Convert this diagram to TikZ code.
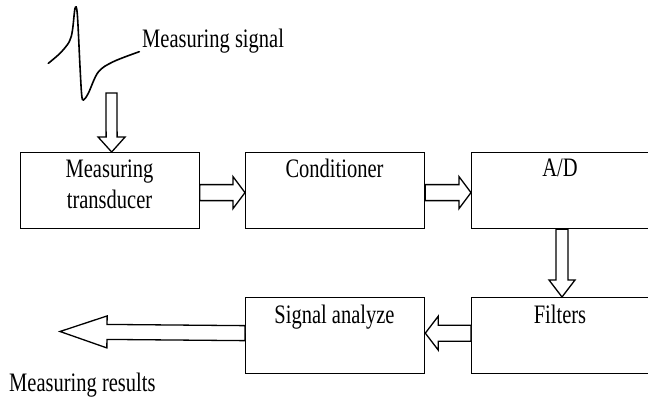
\documentclass[tikz,border=0pt]{standalone}
\usepackage{fontspec}
\usepackage{graphicx}
\setmainfont{Liberation Serif}
\usetikzlibrary{calc}
\newcommand\tx[1]{\scalebox{1}[1.3]{#1}}
\tikzset{
  blk/.style={draw, line width=1.3pt, minimum width=179pt, minimum height=76pt, inner sep=0pt, anchor=north west},
  lbl/.style={font=\fontsize{20.5}{25}\selectfont, inner sep=0pt, anchor=base},
  fat/.style={draw, line width=1.3pt, fill=white, line join=miter},
  wave/.style={line width=1.6pt, line cap=round}
}
\newcommand\fatarrow[5]{% tail, tip, shaft half width, head half width, head length
  \coordinate (fabase) at ($(#2)!#5!(#1)$);
  \draw[fat] ($(#1)!#3!90:(#2)$) -- ($(fabase)!#3!90:(#2)$) -- ($(fabase)!#4!90:(#2)$) -- (#2)
    -- ($(fabase)!#4!-90:(#2)$) -- ($(fabase)!#3!-90:(#2)$) -- ($(#1)!#3!-90:(#2)$) -- cycle;
}
\begin{document}
\begin{tikzpicture}[x=1pt,y=-1pt]
\clip (0,0) rectangle (648,398);
\fill[white] (0,0) rectangle (648,398);

% boxes
\node[blk] (mt) at (19.5,152) {};
\node[blk] (cond) at (245,152) {};
\node[blk, minimum width=185pt] (ad) at (471,152) {};
\node[blk, minimum width=185pt] (filt) at (471,297) {};
\node[blk] (sa) at (245,297) {};

% labels
\node[lbl] (tmt1) at (109.5,177.5) {\tx{Measuring}};
\node[lbl] (tmt2) at (109.5,208.3) {\tx{transducer}};
\node[lbl] (tcond) at (334.5,178) {\tx{Conditioner}};
\node[lbl] (tad) at (560,177) {\tx{A/D}};
\node[lbl] (tfilt) at (560,323) {\tx{Filters}};
\node[lbl] (tsa) at (334.5,323) {\tx{Signal analyze}};
\node[lbl, anchor=base west] (tsig) at (142,48) {\tx{Measuring signal}};
\node[lbl, anchor=base west] (tres) at (9,391.5) {\tx{Measuring results}};

% waveform
\draw[wave] plot[smooth, tension=0.55] coordinates {
  (48.3,63.3) (60,53.3) (69.3,41.7) (72.5,30) (75,8.5) (77.3,14) (80,66.7)
  (81.7,95) (83.5,100) (88.3,93.3) (98.3,72) (113.3,61.7) (139.3,51.7)};

% connector coordinates
\coordinate (sigtail) at (111.5,93);
\coordinate (mtin) at ($(mt.north)+(2,0)$);
\coordinate (adout) at ($(ad.south west)+(91,0)$);
\coordinate (filtin) at ($(filt.north west)+(91,0)$);
\coordinate (mtout) at ($(mt.east)+(0,2)$);
\coordinate (condin) at ($(cond.west)+(0,2)$);
\coordinate (condout) at ($(cond.east)+(0,2)$);
\coordinate (adin) at ($(ad.west)+(0,2)$);
\coordinate (filtout) at ($(filt.west)+(0,-2.5)$);
\coordinate (sain) at ($(sa.east)+(0,-2.5)$);
\coordinate (saout) at ($(sa.west)+(0,-2.5)$);
\coordinate (restip) at (60,331.5);

% arrows
\fatarrow{sigtail}{mtin}{5.5pt}{13.5pt}{15pt}
\fatarrow{mtout}{condin}{8pt}{16pt}{12pt}
\fatarrow{condout}{adin}{8pt}{16pt}{12pt}
\fatarrow{adout}{filtin}{6pt}{13pt}{17pt}
\fatarrow{filtout}{sain}{8pt}{17pt}{13pt}
\fatarrow{saout}{restip}{7.5pt}{16pt}{47pt}
\end{tikzpicture}
\end{document}
